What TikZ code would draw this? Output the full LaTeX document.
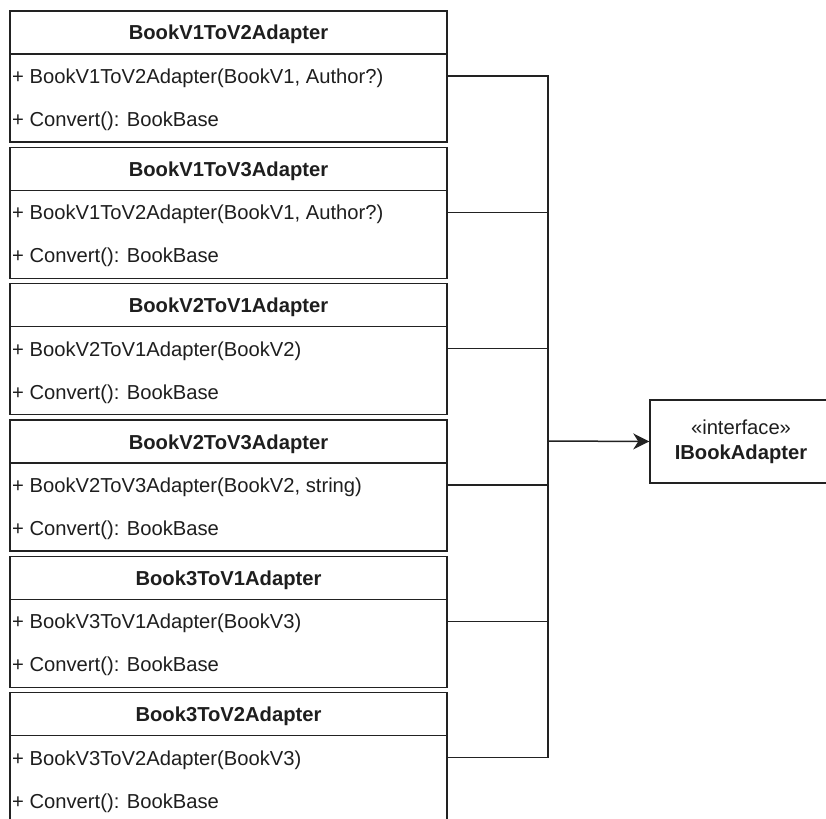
\documentclass[tikz,border=0pt]{standalone}
\usepackage{fontspec}
\setmainfont{Liberation Sans}
\usetikzlibrary{arrows.meta}
\definecolor{ink}{HTML}{222222}
\definecolor{txt}{HTML}{1E1E1E}
\newcommand{\diafont}{\fontsize{20.2}{25}\selectfont}
\tikzset{
  outline/.style={draw=ink, line width=1.5pt},
  classbox/.style={outline, rectangle, minimum width=437pt, minimum height=131pt, inner sep=0pt},
  classtitle/.style={font=\diafont\bfseries, text=txt, inner sep=0pt, text height=15pt, text depth=0pt},
  member/.style={font=\diafont, anchor=west, text=txt, inner sep=0pt, text height=15pt, text depth=0pt},
  wire/.style={draw=ink, line width=1.5pt},
  iface/.style={outline, rectangle, font=\diafont, minimum width=182pt, minimum height=83pt, align=center, text=txt, inner sep=0pt}
}
% one class box: #1 name, #2 top edge, #3 title, #4 constructor
\newcommand{\umlclassbox}[4]{%
  \node[classbox] (#1) at (228.5,{-(#2+65.5)}) {};
  \node[classtitle] (#1t) at (228.5,{-(#2+21.5)}) {#3};
  \draw[outline] (10,{-(#2+43)}) -- (447,{-(#2+43)});
  \node[member] (#1m) at (12,{-(#2+65)}) {+ #4};
  \node[member] (#1c) at (12,{-(#2+108)}) {+ Convert(): BookBase};
}
\begin{document}
\begin{tikzpicture}[x=1pt,y=1pt]
\useasboundingbox (0,0) rectangle (826,-818);
\clip (0,0) rectangle (826,-818);
\fill[white] (0,0) rectangle (826,-818);

\umlclassbox{a}{11}{BookV1ToV2Adapter}{BookV1ToV2Adapter(BookV1, Author?)}
\umlclassbox{b}{147.3}{BookV1ToV3Adapter}{BookV1ToV2Adapter(BookV1, Author?)}
\umlclassbox{c}{283.6}{BookV2ToV1Adapter}{BookV2ToV1Adapter(BookV2)}
\umlclassbox{d}{420}{BookV2ToV3Adapter}{BookV2ToV3Adapter(BookV2, string)}
\umlclassbox{e}{556.3}{Book3ToV1Adapter}{BookV3ToV1Adapter(BookV3)}
\umlclassbox{f}{692.6}{Book3ToV2Adapter}{BookV3ToV2Adapter(BookV3)}

\node[iface] (ib) at (741,-441.5) {«interface»\\\textbf{IBookAdapter}};

\coordinate (bus) at (548,-441);
\foreach \k in {a,b,c,d,e,f}
  \draw[wire] (\k.east |- \k m) -| (bus);
\draw[wire,-{Stealth[length=16pt,width=16pt,inset=5pt]}] (bus) -- (ib.west);
\end{tikzpicture}
\end{document}
